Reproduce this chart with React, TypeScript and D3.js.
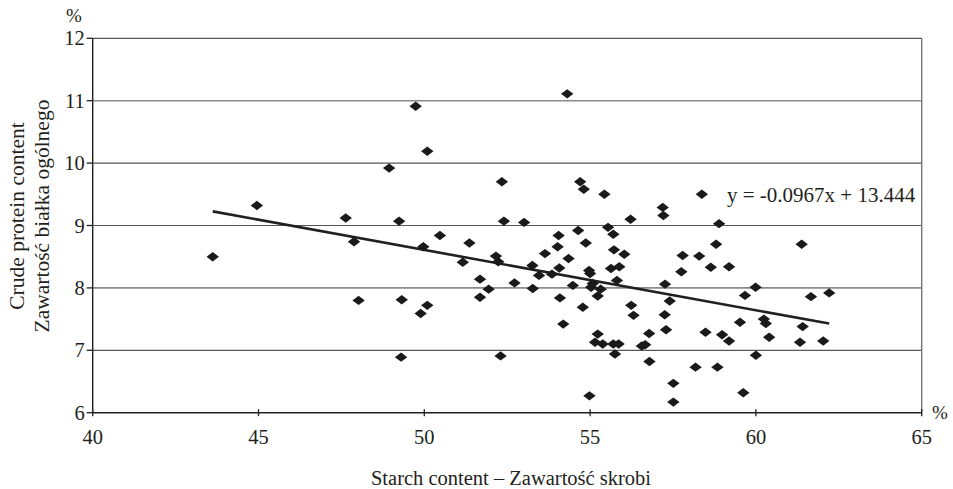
import React from "react";
import * as d3 from "d3";

const starch: number[] = [
  43.62, 44.95, 47.63, 47.88, 48.02, 48.94, 49.24, 49.32, 49.3, 49.74, 49.89, 49.97, 50.09, 50.09, 50.47,
  51.16, 51.36, 51.68, 51.68, 51.94, 52.16, 52.23, 52.3, 52.34, 52.4, 52.72, 53.01, 53.26, 53.27, 53.46,
  53.64, 53.85, 54.02, 54.05, 54.07, 54.09, 54.19, 54.31, 54.35, 54.48, 54.64, 54.7, 54.78, 54.81, 54.87,
  54.97, 54.98, 55.0, 55.03, 55.08, 55.15, 55.23, 55.23, 55.32, 55.38, 55.43, 55.54, 55.63, 55.7, 55.7,
  55.72, 55.75, 55.81, 55.86, 55.88, 56.03, 56.22, 56.24, 56.31, 56.56, 56.66, 56.78, 56.79, 57.19, 57.21,
  57.26, 57.25, 57.29, 57.4, 57.51, 57.51, 57.75, 57.79, 58.18, 58.29, 58.37, 58.48, 58.64, 58.8, 58.84,
  58.89, 58.98, 59.19, 59.19, 59.52, 59.62, 59.67, 59.99, 60.0, 60.24, 60.3, 60.4, 61.33, 61.38, 61.41,
  61.66, 62.03, 62.21,
];
const protein: number[] = [
  8.5, 9.32, 9.12, 8.74, 7.8, 9.92, 9.07, 7.81, 6.89, 10.91, 7.59, 8.66, 10.19, 7.72, 8.84,
  8.41, 8.72, 8.14, 7.85, 7.98, 8.51, 8.42, 6.91, 9.7, 9.07, 8.08, 9.05, 8.36, 7.99, 8.2,
  8.55, 8.22, 8.66, 8.84, 8.32, 7.84, 7.42, 11.11, 8.47, 8.04, 8.92, 9.7, 7.69, 9.58, 8.72,
  8.28, 6.27, 8.23, 8.01, 8.07, 7.13, 7.87, 7.26, 7.98, 7.1, 9.5, 8.97, 8.31, 8.86, 7.1,
  8.61, 6.94, 8.12, 7.1, 8.34, 8.54, 9.1, 7.72, 7.56, 7.07, 7.09, 7.27, 6.82, 9.29, 9.16,
  8.06, 7.57, 7.33, 7.79, 6.47, 6.17, 8.26, 8.52, 6.73, 8.51, 9.5, 7.29, 8.33, 8.7, 6.73,
  9.03, 7.25, 8.34, 7.15, 7.45, 6.32, 7.88, 8.01, 6.92, 7.5, 7.43, 7.21, 7.13, 8.7, 7.38,
  7.86, 7.15, 7.92,
];
const xTicks: number[] = [40, 45, 50, 55, 60, 65];
const yTicks: number[] = [6, 7, 8, 9, 10, 11, 12];
const slope = -0.0967;
const intercept = 13.444;
const equationLabel = "y = -0.0967x + 13.444";
const xTitle = "Starch content – Zawartość skrobi";
const yTitle1 = "Crude protein content";
const yTitle2 = "Zawartość białka ogólnego";

const W = 953;
const H = 489;
const L = 92.7;
const R = 921.7;
const T = 38.3;
const B = 412.7;
const FONT = "'Liberation Serif', 'Times New Roman', serif";
const INK = "#231f20";

export default function App() {
  const x = d3.scaleLinear().domain([40, 65]).range([L, R]);
  const y = d3.scaleLinear().domain([6, 12]).range([B, T]);
  const xMin = d3.min(starch) as number;
  const xMax = d3.max(starch) as number;
  const line = d3
    .line<number>()
    .x((v) => x(v))
    .y((v) => y(slope * v + intercept));
  const diamond = "M0,-4.7L6.2,0L0,4.7L-6.2,0Z";

  return (
    <svg
      width={W}
      height={H}
      style={{ position: "absolute", left: 0, top: 0, background: "#fff" }}
      fontFamily={FONT}
    >
      <rect x={0} y={0} width={W} height={H} fill="#fff" />
      {yTicks
        .filter((t) => t > 6 && t < 12)
        .map((t) => (
          <line
            key={"g" + t}
            x1={L}
            x2={R}
            y1={y(t)}
            y2={y(t)}
            stroke={t === 11 || t === 8 ? "#8a8a8a" : "#555"}
            strokeWidth={t === 11 || t === 8 ? 1.6 : 1.2}
          />
        ))}
      <line x1={L} x2={R} y1={T} y2={T} stroke="#555" strokeWidth={1.2} />
      <line x1={R} x2={R} y1={T} y2={B} stroke="#777" strokeWidth={1.4} />
      <line x1={L} x2={L} y1={T} y2={B} stroke={INK} strokeWidth={1.4} />
      <line x1={L} x2={R} y1={B} y2={B} stroke={INK} strokeWidth={1.4} />
      {yTicks.map((t) => (
        <g key={"yt" + t}>
          <line x1={L - 6} x2={L} y1={y(t)} y2={y(t)} stroke={INK} strokeWidth={1.3} />
          <text
            x={L - 8}
            y={y(t)}
            dy="0.35em"
            textAnchor="end"
            fontSize={20.5}
            fill={INK}
          >
            {t}
          </text>
        </g>
      ))}
      {xTicks.map((t) => (
        <g key={"xt" + t}>
          <line x1={x(t)} x2={x(t)} y1={B - 3.5} y2={B + 3.5} stroke={INK} strokeWidth={1.3} />
          <text x={x(t)} y={B + 31} textAnchor="middle" fontSize={20.5} fill={INK}>
            {t}
          </text>
        </g>
      ))}
      <text x={74} y={22} textAnchor="middle" fontSize={19} fill={INK}>
        %
      </text>
      <text x={940} y={419} textAnchor="middle" fontSize={19} fill={INK}>
        %
      </text>
      <path d={line([xMin, xMax]) || ""} fill="none" stroke={INK} strokeWidth={2.6} />
      {starch.map((sv, i) => (
        <path
          key={"p" + i}
          d={diamond}
          transform={`translate(${x(sv)},${y(protein[i])})`}
          fill="#1a1a1a"
        />
      ))}
      <text x={727} y={202} fontSize={21} fill={INK}>
        {equationLabel}
      </text>
      <text x={511} y={485} textAnchor="middle" fontSize={20.5} fill={INK}>
        {xTitle}
      </text>
      <g transform="translate(24,216) rotate(-90)">
        <text x={0} y={0} textAnchor="middle" fontSize={21.5} fill={INK}>
          {yTitle1}
        </text>
        <text x={0} y={25} textAnchor="middle" fontSize={21.5} fill={INK}>
          {yTitle2}
        </text>
      </g>
    </svg>
  );
}
